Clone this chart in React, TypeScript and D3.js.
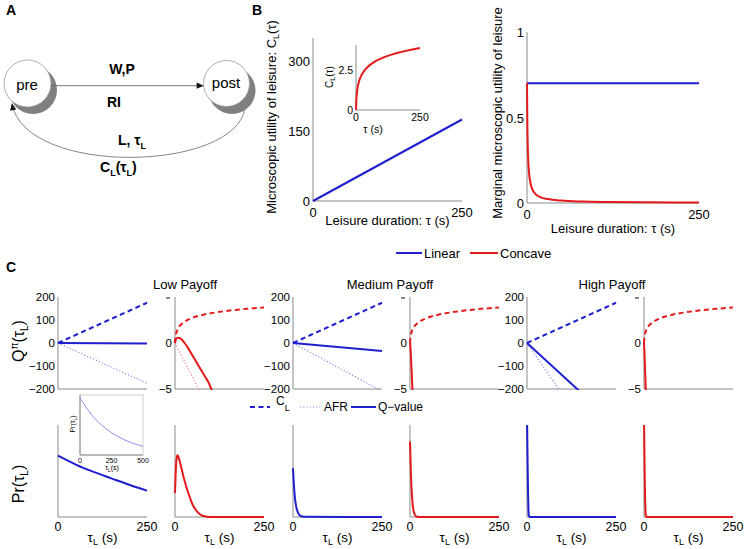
import React from 'react';
import * as d3 from 'd3';

// ---------------- DATA ----------------
const TAU_ENDS = [0, 250];
const LINEAR_CL = [0, 175];
const CONCAVE_TAU = [0, 1, 2, 4, 7, 10, 15, 20, 30, 40, 60, 80, 100, 130, 160, 200, 250];
const CONCAVE_CL = [0, 0.49, 0.77, 1.13, 1.46, 1.68, 1.94, 2.13, 2.4, 2.6, 2.88, 3.08, 3.23, 3.41, 3.56, 3.71, 3.87];
const MARGINAL_LINEAR = [0.7, 0.7];
const MARGINAL_TAU = [0, 0.5, 1, 2, 3, 5, 8, 12, 20, 30, 50, 80, 120, 180, 250];
const MARGINAL_CONCAVE = [0.7, 0.467, 0.35, 0.233, 0.175, 0.117, 0.078, 0.054, 0.033, 0.023, 0.014, 0.0086, 0.0058, 0.0039, 0.0028];

const B_LEFT_TICKS = [0, 150, 300];
const B_RIGHT_TICKS = [0, 0.5, 1];
const B_INSET_TICKS = [0, 2.5];
const LINEAR_Q_TICKS = [200, 100, 0, -100, -200];
const CONCAVE_Q_TICKS = [0, -5];

const PAYOFFS = ['Low Payoff', 'Medium Payoff', 'High Payoff'];
const LINEAR_AFR_END = [-175, -210, -562];
const LINEAR_Q_END = [-2, -35, -355];

const LOW_CONC_Q_TAU = [0, 2, 5, 10, 15, 20, 27, 35, 45, 55, 65, 75, 85, 95, 102, 110];
const LOW_CONC_Q = [0, 0.35, 0.52, 0.58, 0.5, 0.33, 0, -0.45, -1.1, -1.75, -2.4, -3.05, -3.7, -4.35, -5.0, -5.5];
const MED_CONC_Q_TAU = [0, 1, 2, 3, 4, 5, 6, 7, 8];
const MED_CONC_Q = [0, -0.3, -1.0, -1.8, -2.6, -3.4, -4.3, -5.1, -6];
const HIGH_CONC_Q_TAU = [0, 1, 2, 3, 4, 5, 6];
const HIGH_CONC_Q = [0, -0.8, -1.8, -2.9, -4.0, -5.1, -6.2];
const CONC_AFR_END = [-18.9, -190, -280];

const PR_LOW_LIN_TAU = [0, 50, 100, 150, 200, 250];
const PR_LOW_LIN = [0.666, 0.57, 0.49, 0.42, 0.35, 0.286];
const PR_INSET_TAU = [0, 50, 100, 150, 200, 250, 300, 350, 400, 450, 500];
const PR_INSET = [0.95, 0.79, 0.65, 0.54, 0.45, 0.37, 0.31, 0.255, 0.21, 0.175, 0.145];
const PR_INSET_TICKS = [0, 250, 500];
const PR_LOW_CONC_TAU = [0, 2, 4, 7, 10, 15, 20, 25, 30, 40, 50, 60, 70, 80, 100, 250];
const PR_LOW_CONC = [0.26, 0.48, 0.62, 0.67, 0.65, 0.58, 0.5, 0.42, 0.35, 0.23, 0.13, 0.07, 0.03, 0.01, 0, 0];
const PR_MED_LIN_TAU = [0, 2, 4, 6, 8, 10, 15, 20, 30, 250];
const PR_MED_LIN = [0.53, 0.38, 0.27, 0.19, 0.135, 0.095, 0.04, 0.015, 0.002, 0];
const PR_MED_CONC_TAU = [0, 1, 2, 3, 4, 6, 8, 10, 13, 16, 25, 250];
const PR_MED_CONC = [0.82, 0.7, 0.55, 0.43, 0.34, 0.21, 0.12, 0.07, 0.03, 0.01, 0, 0];
const PR_HIGH_LIN_TAU = [0, 1, 2, 3, 4, 5, 7, 250];
const PR_HIGH_LIN = [1.1, 0.8, 0.5, 0.25, 0.1, 0.02, 0, 0];
const PR_HIGH_CONC_TAU = [0, 1, 2, 3, 4, 5, 7, 250];
const PR_HIGH_CONC = [1.1, 0.75, 0.45, 0.22, 0.08, 0.02, 0, 0];

// ---------------- STYLE ----------------
const FF = "'Liberation Sans', Arial, Helvetica, sans-serif";
const BLUE = '#1f1fcf';
const RED = '#e41a1c';
const BLUE_L = '#8c8ce8';
const RED_L = '#f08a8a';
const AXIS = '#8a8a8a';

type S = { X: number[]; Y: number[]; color: string; w: number; dash?: string };

function mkPath(xs: any, ys: any, X: number[], Y: number[]) {
  const g = d3
    .line<number>()
    .x((_d, i) => xs(X[i]))
    .y((d) => ys(d))
    .curve(d3.curveMonotoneX);
  return g(Y) || '';
}

function Axes(props: {
  id: string;
  x0: number; x1: number; y0: number; y1: number;
  xd: number[]; yd: number[];
  series: S[];
}) {
  const { id, x0, x1, y0, y1, xd, yd, series } = props;
  const xs = d3.scaleLinear().domain(xd).range([x0, x1]);
  const ys = d3.scaleLinear().domain(yd).range([y1, y0]);
  return (
    <g>
      <clipPath id={id}>
        <rect x={x0 - 2} y={y0} width={x1 - x0 + 4} height={y1 - y0 + 1} />
      </clipPath>
      <line x1={x0} y1={y0} x2={x0} y2={y1} stroke={AXIS} strokeWidth={1} />
      <line x1={x0} y1={y1} x2={x1} y2={y1} stroke={AXIS} strokeWidth={1} />
      <g clipPath={`url(#${id})`}>
        {series.map((s, i) => (
          <path key={i} d={mkPath(xs, ys, s.X, s.Y)} fill="none" stroke={s.color}
            strokeWidth={s.w} strokeDasharray={s.dash} strokeLinecap="butt" />
        ))}
      </g>
    </g>
  );
}

export default function App() {
  // ---------- Panel B scales ----------
  const bl = { x0: 313, x1: 462, y0: 38, y1: 201 };
  const blY = d3.scaleLinear().domain([0, 350]).range([bl.y1, bl.y0]);
  const br = { x0: 527, x1: 699, y0: 32, y1: 203 };
  const brY = d3.scaleLinear().domain([0, 1]).range([br.y1, br.y0]);
  const bi = { x0: 356, x1: 420, y0: 45, y1: 110 };
  const biY = d3.scaleLinear().domain([0, 4.06]).range([bi.y1, bi.y0]);

  // ---------- Panel C layout ----------
  const COLS = [58, 175, 293, 410, 527, 644];
  const W = 89;
  const TOP = { y0: 297, y1: 389 };
  const BOT = { y0: 425, y1: 517 };
  const TITLE_X = [185, 390, 612];
  const linY = d3.scaleLinear().domain([-200, 200]).range([TOP.y1, TOP.y0]);
  const conY = d3.scaleLinear().domain([-5, 5]).range([TOP.y1, TOP.y0]);

  const concQ = [
    { X: LOW_CONC_Q_TAU, Y: LOW_CONC_Q },
    { X: MED_CONC_Q_TAU, Y: MED_CONC_Q },
    { X: HIGH_CONC_Q_TAU, Y: HIGH_CONC_Q },
  ];
  const prSeries = [
    { X: PR_LOW_LIN_TAU, Y: PR_LOW_LIN, c: BLUE },
    { X: PR_LOW_CONC_TAU, Y: PR_LOW_CONC, c: RED },
    { X: PR_MED_LIN_TAU, Y: PR_MED_LIN, c: BLUE },
    { X: PR_MED_CONC_TAU, Y: PR_MED_CONC, c: RED },
    { X: PR_HIGH_LIN_TAU, Y: PR_HIGH_LIN, c: BLUE },
    { X: PR_HIGH_CONC_TAU, Y: PR_HIGH_CONC, c: RED },
  ];

  // inset in C bottom-left
  const pi = { x0: 80, x1: 143, y0: 395, y1: 455 };
  const piX = d3.scaleLinear().domain([0, 500]).range([pi.x0, pi.x1]);

  const dashCL = '5 3.5';
  const dotAFR = '1.2 2';

  return (
    <svg width={745} height={549} style={{ position: 'absolute', left: 0, top: 0, background: '#fff' }}
      fontFamily={FF}>
      <rect x={0} y={0} width={745} height={549} fill="#fff" />
      <defs>
        <marker id="arr" viewBox="0 0 10 10" refX="9" refY="5" markerWidth="9" markerHeight="7"
          markerUnits="userSpaceOnUse" orient="auto">
          <path d="M0,0.5 L10,5 L0,9.5 z" fill="#111" />
        </marker>
      </defs>

      {/* ================= Panel A ================= */}
      <text x={6} y={15} fontSize={14} fontWeight="bold">A</text>
      <path d="M 245 108 C 236 172, 26 177, 12 104" fill="none" stroke="#777" strokeWidth={0.9} markerEnd="url(#arr)" />
      <circle cx={33} cy={90} r={24} fill="#808080" />
      <circle cx={27.5} cy={83.5} r={23.5} fill="#fff" stroke="#999" strokeWidth={0.8} />
      <circle cx={232} cy={90.5} r={23.5} fill="#808080" />
      <circle cx={226.5} cy={83.5} r={23} fill="#fff" stroke="#999" strokeWidth={0.8} />
      <line x1={51} y1={85.7} x2={203} y2={85.7} stroke="#666" strokeWidth={0.9} markerEnd="url(#arr)" />
      <text x={27} y={90} fontSize={15} textAnchor="middle">pre</text>
      <text x={226} y={88} fontSize={15} textAnchor="middle">post</text>
      <text x={122} y={74} fontSize={14} fontWeight="bold" textAnchor="middle">W,P</text>
      <text x={114} y={107} fontSize={14} fontWeight="bold" textAnchor="middle">RI</text>
      <text x={118} y={145} fontSize={14} fontWeight="bold">L, τ<tspan fontSize={9} dy={4}>L</tspan></text>
      <text x={100} y={172} fontSize={14} fontWeight="bold">C<tspan fontSize={9} dy={4}>L</tspan><tspan dy={-4}>(τ</tspan><tspan fontSize={9} dy={4}>L</tspan><tspan dy={-4}>)</tspan></text>

      {/* ================= Panel B ================= */}
      <text x={252} y={15} fontSize={14} fontWeight="bold">B</text>
      <Axes id="bl" {...bl} xd={[0, 250]} yd={[0, 350]}
        series={[{ X: TAU_ENDS, Y: LINEAR_CL, color: BLUE, w: 2 }]} />
      {B_LEFT_TICKS.map((t) => (
        <text key={t} x={bl.x0 - 3} y={blY(t) + 5} fontSize={13} textAnchor="end">{t}</text>
      ))}
      <text x={bl.x0} y={217} fontSize={13} textAnchor="middle">0</text>
      <text x={bl.x1} y={217} fontSize={13} textAnchor="middle">250</text>
      <text x={(bl.x0 + bl.x1) / 2} y={225} fontSize={13} textAnchor="middle">Leisure duration: τ (s)</text>
      <text transform={`translate(276,117) rotate(-90)`} fontSize={13} textAnchor="middle">
        Microscopic utility of leisure: C<tspan fontSize={9} dy={3}>L</tspan><tspan dy={-3}>(τ)</tspan>
      </text>

      {/* inset */}
      <Axes id="bi" {...bi} xd={[0, 250]} yd={[0, 4.06]}
        series={[{ X: CONCAVE_TAU, Y: CONCAVE_CL, color: RED, w: 2 }]} />
      {B_INSET_TICKS.map((t) => (
        <text key={t} x={bi.x0 - 3} y={biY(t) + 4} fontSize={10.5} textAnchor="end">{t}</text>
      ))}
      <text x={bi.x0} y={121} fontSize={10.5} textAnchor="middle">0</text>
      <text x={bi.x1} y={121} fontSize={10.5} textAnchor="middle">250</text>
      <text x={373} y={133} fontSize={10.5} textAnchor="middle">τ (s)</text>
      <text transform={`translate(333,77) rotate(-90)`} fontSize={10} textAnchor="middle">
        C<tspan fontSize={7} dy={2}>L</tspan><tspan dy={-2}>(τ)</tspan>
      </text>

      {/* right */}
      <Axes id="br" {...br} xd={[0, 250]} yd={[0, 1]}
        series={[
          { X: TAU_ENDS, Y: MARGINAL_LINEAR, color: BLUE, w: 2 },
          { X: MARGINAL_TAU, Y: MARGINAL_CONCAVE, color: RED, w: 2 },
        ]} />
      {B_RIGHT_TICKS.map((t) => (
        <text key={t} x={br.x0 - 3} y={brY(t) + 5} fontSize={13} textAnchor="end">{t}</text>
      ))}
      <text x={br.x0} y={219} fontSize={13} textAnchor="middle">0</text>
      <text x={br.x1} y={219} fontSize={13} textAnchor="middle">250</text>
      <text x={(br.x0 + br.x1) / 2} y={233} fontSize={13} textAnchor="middle">Leisure duration: τ (s)</text>
      <text transform={`translate(502,113) rotate(-90)`} fontSize={13} textAnchor="middle">
        Marginal microscopic utility of leisure
      </text>

      {/* legend B */}
      <line x1={396} y1={253} x2={422} y2={253} stroke={BLUE} strokeWidth={2} />
      <text x={424} y={258} fontSize={13}>Linear</text>
      <line x1={470} y1={253} x2={498} y2={253} stroke={RED} strokeWidth={2} />
      <text x={500} y={258} fontSize={13}>Concave</text>

      {/* ================= Panel C ================= */}
      <text x={6} y={272} fontSize={14} fontWeight="bold">C</text>
      {PAYOFFS.map((p, i) => (
        <text key={p} x={TITLE_X[i]} y={289} fontSize={13} textAnchor="middle">{p}</text>
      ))}

      {/* top row */}
      {PAYOFFS.map((p, i) => {
        const xl = COLS[2 * i];
        const xc = COLS[2 * i + 1];
        return (
          <g key={'top' + i}>
            <Axes id={'tl' + i} x0={xl} x1={xl + W} y0={TOP.y0} y1={TOP.y1} xd={[0, 250]} yd={[-200, 200]}
              series={[
                { X: TAU_ENDS, Y: [0, LINEAR_AFR_END[i]], color: BLUE_L, w: 1.2, dash: dotAFR },
                { X: TAU_ENDS, Y: LINEAR_CL, color: BLUE, w: 2, dash: dashCL },
                { X: TAU_ENDS, Y: [0, LINEAR_Q_END[i]], color: BLUE, w: 2 },
              ]} />
            {LINEAR_Q_TICKS.map((t) => (
              <text key={t} x={xl - 3} y={linY(t) + 4} fontSize={11.5} textAnchor="end">
                {t < 0 ? '−' + Math.abs(t) : t}
              </text>
            ))}
            <Axes id={'tc' + i} x0={xc} x1={xc + W} y0={TOP.y0} y1={TOP.y1} xd={[0, 250]} yd={[-5, 5]}
              series={[
                { X: TAU_ENDS, Y: [0, CONC_AFR_END[i]], color: RED_L, w: 1.2, dash: dotAFR },
                { X: CONCAVE_TAU, Y: CONCAVE_CL, color: RED, w: 2, dash: dashCL },
                { X: concQ[i].X, Y: concQ[i].Y, color: RED, w: 2 },
              ]} />
            {CONCAVE_Q_TICKS.map((t) => (
              <text key={t} x={xc - 3} y={conY(t) + 4} fontSize={11.5} textAnchor="end">
                {t < 0 ? '−' + Math.abs(t) : t}
              </text>
            ))}
            <line x1={xc - 9} y1={conY(5) + 1} x2={xc - 5} y2={conY(5) + 1} stroke="#111" strokeWidth={1} />
          </g>
        );
      })}

      <text transform={`translate(24,341) rotate(-90)`} fontSize={16} textAnchor="middle">
        Q<tspan fontSize={10} dy={-6}>π</tspan><tspan dy={6}>(τ</tspan><tspan fontSize={10} dy={4}>L</tspan><tspan dy={-4}>)</tspan>
      </text>
      <text transform={`translate(24,484) rotate(-90)`} fontSize={16} textAnchor="middle">
        Pr(τ<tspan fontSize={10} dy={4}>L</tspan><tspan dy={-4}>)</tspan>
      </text>

      {/* legend C */}
      <line x1={250} y1={407} x2={270} y2={407} stroke={BLUE} strokeWidth={2} strokeDasharray="5 3.5" />
      <text x={276} y={405} fontSize={12}>C<tspan fontSize={9} dy={6}>L</tspan></text>
      <line x1={300} y1={407} x2={321} y2={407} stroke={BLUE_L} strokeWidth={1.2} strokeDasharray={dotAFR} />
      <text x={324} y={411} fontSize={12}>AFR</text>
      <line x1={351} y1={407} x2={376} y2={407} stroke={BLUE} strokeWidth={2} />
      <text x={378} y={411} fontSize={12}>Q−value</text>

      {/* bottom row */}
      {prSeries.map((s, k) => {
        const x0 = COLS[k];
        return (
          <g key={'bot' + k}>
            <Axes id={'b' + k} x0={x0} x1={x0 + W} y0={BOT.y0} y1={BOT.y1} xd={[0, 250]} yd={[0, 1]}
              series={[{ X: s.X, Y: s.Y, color: s.c, w: 2 }]} />
            <text x={x0} y={531} fontSize={12.5} textAnchor="middle">0</text>
            <text x={x0 + W} y={531} fontSize={12.5} textAnchor="middle">250</text>
            <text x={x0 + W / 2} y={542} fontSize={13.5} textAnchor="middle">
              τ<tspan fontSize={9} dy={3}>L</tspan><tspan dy={-3}>  (s)</tspan>
            </text>
          </g>
        );
      })}

      {/* bottom-left inset */}
      <rect x={pi.x0} y={pi.y0} width={pi.x1 - pi.x0} height={pi.y1 - pi.y0} fill="#fff" stroke="#cfcfcf" strokeWidth={1} />
      <Axes id="pi" {...pi} xd={[0, 500]} yd={[0, 1]}
        series={[{ X: PR_INSET_TAU, Y: PR_INSET, color: BLUE_L, w: 1 }]} />
      {PR_INSET_TICKS.map((t) => (
        <text key={t} x={piX(t)} y={463} fontSize={7} textAnchor="middle">{t}</text>
      ))}
      <text x={112} y={470} fontSize={7} textAnchor="middle">
        τ<tspan fontSize={5} dy={2}>L</tspan><tspan dy={-2}>(s)</tspan>
      </text>
      <text transform={`translate(75,424) rotate(-90)`} fontSize={7} textAnchor="middle">
        Pr(τ<tspan fontSize={5} dy={2}>L</tspan><tspan dy={-2}>)</tspan>
      </text>
    </svg>
  );
}
